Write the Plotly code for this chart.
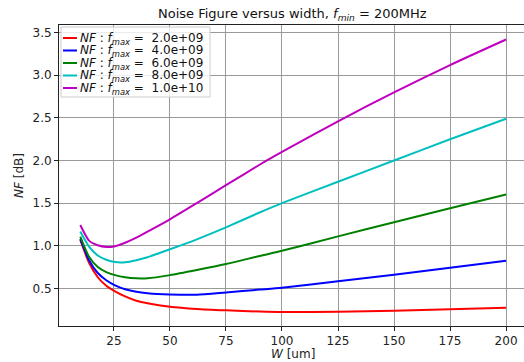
import plotly.graph_objects as go

W = [10, 13.9, 17.8, 21.6, 25.5, 30, 35, 40, 50, 62, 75, 90, 100, 125, 150, 175, 200]

nf_2e9 = [1.067, 0.80, 0.63, 0.53, 0.465, 0.405, 0.355, 0.325, 0.284, 0.258, 0.242, 0.228, 0.222, 0.225, 0.238, 0.255, 0.273]
nf_4e9 = [1.08, 0.83, 0.68, 0.595, 0.535, 0.49, 0.46, 0.443, 0.428, 0.425, 0.452, 0.485, 0.507, 0.582, 0.66, 0.742, 0.824]
nf_6e9 = [1.108, 0.87, 0.75, 0.69, 0.655, 0.63, 0.617, 0.618, 0.655, 0.715, 0.785, 0.88, 0.94, 1.11, 1.275, 1.44, 1.60]
nf_8e9 = [1.167, 0.99, 0.885, 0.835, 0.808, 0.806, 0.83, 0.865, 0.958, 1.075, 1.215, 1.39, 1.50, 1.75, 2.00, 2.25, 2.49]
nf_1e10 = [1.243, 1.06, 1.005, 0.985, 0.995, 1.035, 1.095, 1.165, 1.31, 1.50, 1.71, 1.95, 2.10, 2.46, 2.80, 3.12, 3.42]

fmax_labels = ["2.0e+09", "4.0e+09", "6.0e+09", "8.0e+09", "1.0e+10"]
series = [nf_2e9, nf_4e9, nf_6e9, nf_8e9, nf_1e10]
colors = ["#ff0000", "#0000ff", "#008000", "#00bfbf", "#bf00bf"]

x_ticks = [25, 50, 75, 100, 125, 150, 175, 200]
y_ticks = [0.5, 1.0, 1.5, 2.0, 2.5, 3.0, 3.5]

# plot-area geometry in pixels (for converting legend placement)
FIG_W, FIG_H = 524, 362
ML, MR, MT, MB = 59, 0, 25, 36
PW = FIG_W - ML - MR
PH = FIG_H - MT - MB


def px_x(px):
    return (px - ML) / PW


def px_y(py):
    return (FIG_H - MB - py) / PH


fig = go.Figure()
labels = []
for vals, lab, col in zip(series, fmax_labels, colors):
    name = f"<i>NF</i> : <i>f</i><sub><i>max</i></sub> =  {lab}"
    labels.append(name)
    fig.add_trace(go.Scatter(
        x=W, y=vals, mode="lines",
        line=dict(color=col, width=2, shape="spline", smoothing=0.6),
        name=name, showlegend=False,
    ))

# legend box drawn like matplotlib's (tight row spacing)
shapes = [dict(
    type="rect", xref="paper", yref="paper",
    x0=px_x(61), x1=px_x(210), y0=px_y(97), y1=px_y(27),
    line=dict(color="#cccccc", width=1), fillcolor="rgba(255,255,255,0.8)",
    layer="above",
)]
annotations = []
row_y = [38, 50.5, 63, 75.5, 88]
for ry, name, col in zip(row_y, labels, colors):
    shapes.append(dict(
        type="line", xref="paper", yref="paper",
        x0=px_x(63), x1=px_x(77), y0=px_y(ry), y1=px_y(ry),
        line=dict(color=col, width=2), layer="above",
    ))
    annotations.append(dict(
        xref="paper", yref="paper", x=px_x(78), y=px_y(ry + 1),
        xanchor="left", yanchor="middle", text=name, showarrow=False,
        font=dict(size=12, color="#111111"),
    ))

annotations.append(dict(
    xref="paper", yref="paper", x=px_x(292), y=px_y(14),
    xanchor="center", yanchor="middle",
    text="Noise Figure versus width, <i>f</i><sub><i>min</i></sub> = 200MHz",
    showarrow=False, font=dict(size=13, color="#111111"),
))
annotations.append(dict(
    xref="paper", yref="paper", x=px_x(293), y=px_y(354),
    xanchor="center", yanchor="middle",
    text="<i>W</i> [um]",
    showarrow=False, font=dict(size=12, color="#222222"),
))

axis_common = dict(
    showgrid=True, gridcolor="#9a9a9a", gridwidth=1,
    showline=True, linecolor="#222222", linewidth=1,
    ticks="outside", ticklen=4, tickcolor="#222222",
    zeroline=False,
    tickfont=dict(size=12, color="#222222"),
)

fig.update_layout(
    width=FIG_W, height=FIG_H,
    margin=dict(l=ML, r=MR, t=MT, b=MB),
    paper_bgcolor="white", plot_bgcolor="white",
    font=dict(family="DejaVu Sans", size=12, color="#222222"),
    xaxis=dict(
        range=[0.5, 208], tickvals=x_ticks, mirror=True,
        **axis_common,
    ),
    yaxis=dict(
        range=[0.058, 3.59], tickvals=y_ticks, tickformat=".1f", mirror=False,
        title=dict(text="<i>NF</i> [dB]", standoff=6, font=dict(size=12)),
        **axis_common,
    ),
    shapes=shapes,
    annotations=annotations,
    showlegend=False,
)

fig.write_html("out.html")
